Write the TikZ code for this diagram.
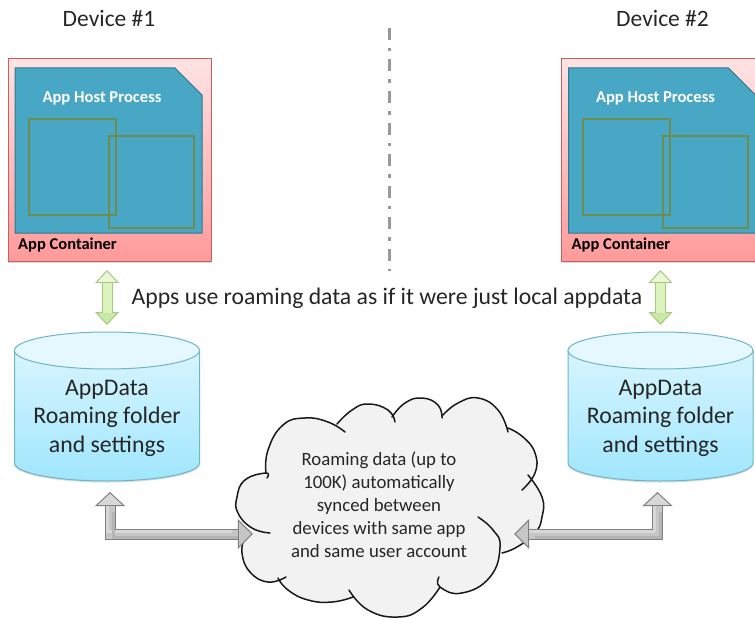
\documentclass[tikz,border=0pt]{standalone}
\usepackage{fontspec}
\setmainfont{Carlito}
\usepackage{xcolor}
\usetikzlibrary{arrows.meta,shadows}
\definecolor{boxedge}{HTML}{C5605E}
\definecolor{boxtop}{HTML}{FFE3E3}
\definecolor{boxbottom}{HTML}{FF9A9A}
\definecolor{hostfill}{HTML}{47A7C4}
\definecolor{hostedge}{HTML}{31788F}
\definecolor{slotedge}{HTML}{6F8C50}
\definecolor{storetop}{HTML}{D8F5FF}
\definecolor{storebottom}{HTML}{A0E6FD}
\definecolor{storeedge}{HTML}{6DB5C9}
\definecolor{capfill}{HTML}{E6F8FF}
\definecolor{greenfill}{HTML}{DDF3BE}
\definecolor{greenlight}{HTML}{EAF8D6}
\definecolor{greendark}{HTML}{CBE9A6}
\definecolor{greenedge}{HTML}{A6C887}
\definecolor{greyfill}{HTML}{C6C6C6}
\definecolor{greylight}{HTML}{D8D8D8}
\definecolor{greydark}{HTML}{B4B4B4}
\definecolor{greyedge}{HTML}{808080}
\definecolor{cloudfill}{HTML}{F2F2F2}
\definecolor{inktext}{HTML}{262626}
\tikzset{
	devicelabel/.style={font=\fontsize{23.5}{26}\selectfont,text=inktext},
	containerbox/.style={draw=boxedge,line width=1pt,shade,top color=boxtop,bottom color=boxbottom,minimum width=203pt,minimum height=202pt,inner sep=0pt,
		drop shadow={shadow xshift=0pt,shadow yshift=-1.5pt,opacity=.3}},
	hostbox/.style={draw=hostedge,fill=hostfill,line width=1pt},
	slotbox/.style={draw=slotedge,line width=2pt,inner sep=0pt},
	hostlabel/.style={font=\fontsize{16.6}{18}\selectfont\bfseries,text=white},
	containerlabel/.style={font=\fontsize{16.5}{18}\selectfont\bfseries,text=black},
	storebody/.style={draw=storeedge,line width=1pt,shade,top color=storetop,bottom color=storebottom,
		drop shadow={shadow xshift=0pt,shadow yshift=-1.5pt,opacity=.3}},
	storelabel/.style={font=\fontsize{23.8}{28.5}\selectfont,text=black!85,align=center},
	synclabel/.style={font=\fontsize{18.8}{23}\selectfont,text=inktext,align=center,minimum width=270pt,inner sep=0pt},
	usedata/.style={font=\fontsize{23.7}{28}\selectfont,text=black!85},
	localline/.style={draw=greenedge,line width=11pt,
		{Triangle[length=13pt,width=24pt,fill=greenlight,line width=1pt]}-{Triangle[length=13pt,width=24pt,fill=greendark,line width=1pt]},
		postaction={draw=greenfill,line width=9pt,-,shorten <=12.5pt,shorten >=12.5pt}},
	syncline/.style 2 args={draw=greyedge,line width=11pt,
		{Triangle[length=14pt,width=30pt,fill=greylight,line width=1pt]}-{Triangle[length=15pt,width=30pt,fill=greyfill,line width=1pt]},
		shorten <=#1,shorten >=#2,
		postaction={draw=greyfill,line width=9pt,-,shorten <=#1+13.5pt,shorten >=#2+14.5pt},
		postaction={draw=greylight,line width=3pt,-,shorten <=#1+17pt,shorten >=#2+18pt,transform canvas={xshift=-3pt,yshift=3pt}},
		postaction={draw=greydark,line width=3pt,-,shorten <=#1+17pt,shorten >=#2+18pt,transform canvas={xshift=3pt,yshift=-3pt}}},
	lobeline/.style={draw=black!90,line width=1.5pt,line cap=round},
}
% outline of the cloud, one puff at a time
\newcommand{\cloudpuffs}{
	plot[smooth,tension=.8] coordinates {(266,473) (268,450) (283,425) (305,418) (328,422) (345,432)}
	plot[smooth,tension=.8] coordinates {(337,424) (352,410) (368,404) (388,410) (395,422)}
	plot[smooth,tension=.8] coordinates {(392,417) (405,403) (422,398) (438,405) (442,418)}
	plot[smooth,tension=.8] coordinates {(443,415) (458,403) (478,398) (498,410) (508,432)}
	plot[smooth,tension=.8] coordinates {(508,428) (523,437) (535,453) (535,473) (522,490)}
	plot[smooth,tension=.8] coordinates {(528,475) (542,497) (542,517) (535,533) (517,547) (502,553)}
	plot[smooth,tension=.8] coordinates {(478,517) (493,530) (500,547) (490,577) (462,593) (440,587) (439,577)}
	plot[smooth,tension=.8] coordinates {(440,587) (422,608) (398,617) (368,610) (349,590)}
	plot[smooth,tension=.8] coordinates {(353,597) (332,602) (308,600) (288,590) (278,578)}
	plot[smooth,tension=.8] coordinates {(286,577) (268,582) (250,572) (242,553) (245,537)}
	plot[smooth,tension=.8] coordinates {(270,533) (252,528) (238,513) (237,497) (245,480) (266,473) (267,478)}
}
\begin{document}
\begin{tikzpicture}[x=1pt,y=-1pt]
	\useasboundingbox (0,0) rectangle (755,618);
	\clip (0,0) rectangle (755,618);
	%
	\foreach \n/\dx in {1/0,2/553.5}{
		\begin{scope}[xshift=\dx pt]
			\node[devicelabel] (device\n) at (109,18) {Device \#\n};
			\node[containerbox] (box\n) at (109.5,160) {};
			\draw[hostbox] (15,68) -- (175,68) -- (202,95) -- (202,233) -- (15,233) -- cycle;
			\node[hostlabel] (hostname\n) at (102,98) {App Host Process};
			\node[slotbox,minimum width=87pt,minimum height=96pt] (slota\n) at (72.5,167) {};
			\node[slotbox,minimum width=85pt,minimum height=92pt] (slotb\n) at (151.5,182) {};
			\node[containerlabel] (boxname\n) at (67.5,245) {App Container};
			\path[storebody] (14.5,350.5) -- (14.5,463) arc[start angle=180,end angle=0,x radius=92.5,y radius=18] -- (199.5,350.5) -- cycle;
			\draw[storeedge,line width=1pt,fill=capfill] (107,350.5) ellipse (92.5 and 18.5);
			\node[storelabel] (storename\n) at (107,418) {AppData\\Roaming folder\\and settings};
			\coordinate (store\n) at (107,481);
			\draw[localline] (107,270) -- (107,325);
		\end{scope}
	}
	%
	\draw[gray!80,line width=3.5pt,dash pattern=on 12pt off 8pt on 3.5pt off 8pt] (389.5,28) -- (389.5,271);
	\node[usedata] (usedata) at (387,298) {Apps use roaming data as if it were just local appdata};
	%
	\fill[cloudfill] (266,473) -- (337,424) -- (395,415) -- (443,415) -- (508,428) -- (528,475) -- (502,553) -- (440,587) -- (349,597) -- (278,578) -- (245,537) -- cycle;
	\fill[cloudfill] \cloudpuffs;
	\draw[lobeline] \cloudpuffs;
	\node[synclabel] (sync) at (379,504.5) {Roaming data (up to\\100K) automatically\\synced between\\devices with same app\\and same user account};
	%
	\draw[syncline={11pt}{-9pt}] ([xshift=3pt]store1) |- ([yshift=-29.5pt]sync.west);
	\draw[syncline={11pt}{0pt}] ([xshift=-3pt]store2) |- ([yshift=-29.5pt]sync.east);
\end{tikzpicture}
\end{document}
